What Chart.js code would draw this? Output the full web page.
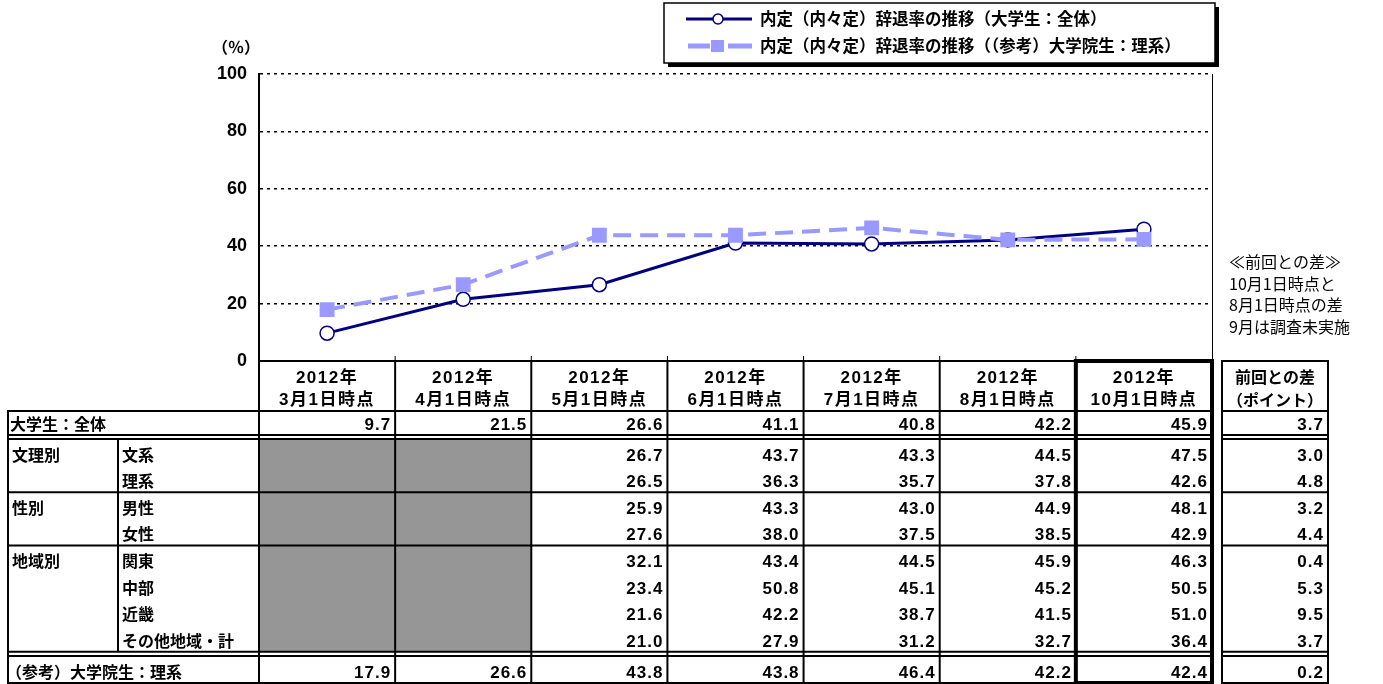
<!DOCTYPE html>
<html lang="ja">
<head>
<meta charset="utf-8">
<script src="https://cdn.jsdelivr.net/npm/chart.js@4/dist/chart.umd.min.js"></script>
<style>
  html, body { margin: 0; padding: 0; background: #fff; }
  #wrap { width: 1383px; height: 684px; }
</style>
</head>
<body>
<div id="wrap"><canvas id="rateChart" width="1383" height="684"></canvas></div>
<script>
// Survey points (x categories / table header)
const categories = [
  ['2012年', '3月1日時点'], ['2012年', '4月1日時点'], ['2012年', '5月1日時点'],
  ['2012年', '6月1日時点'], ['2012年', '7月1日時点'], ['2012年', '8月1日時点'],
  ['2012年', '10月1日時点']
];

// Line series (also table rows)
const undergradAll = [9.7, 21.5, 26.6, 41.1, 40.8, 42.2, 45.9];
const gradScience = [17.9, 26.6, 43.8, 43.8, 46.4, 42.2, 42.4];

// Breakdown rows (no survey before May)
const bunkei = [null, null, 26.7, 43.7, 43.3, 44.5, 47.5];
const rikei  = [null, null, 26.5, 36.3, 35.7, 37.8, 42.6];
const male   = [null, null, 25.9, 43.3, 43.0, 44.9, 48.1];
const female = [null, null, 27.6, 38.0, 37.5, 38.5, 42.9];
const kanto  = [null, null, 32.1, 43.4, 44.5, 45.9, 46.3];
const chubu  = [null, null, 23.4, 50.8, 45.1, 45.2, 50.5];
const kinki  = [null, null, 21.6, 42.2, 38.7, 41.5, 51.0];
const others = [null, null, 21.0, 27.9, 31.2, 32.7, 36.4];

// "前回との差" column, top to bottom
const pointDiffs = [3.7, 3.0, 4.8, 3.2, 4.4, 0.4, 5.3, 9.5, 3.7, 0.2];

const yTicks = [0, 20, 40, 60, 80, 100];

const seriesNames = [
  '内定（内々定）辞退率の推移（大学生：全体）',
  '内定（内々定）辞退率の推移（（参考）大学院生：理系）'
];

const noteLines = ['≪前回との差≫', '10月1日時点と', '8月1日時点の差', '9月は調査未実施'];

const FONT = "'Liberation Sans', 'Noto Sans CJK JP', sans-serif";
const CJK = "'Noto Sans CJK JP', 'Liberation Sans', sans-serif";
const NAVY = '#000080';
const LILAC = '#9999FF';
const GRAY = '#969696';

// table layout below the plot
const HDR_BOTTOM = 411, ALL_BOTTOM = 435, GROUP_TOP = 439, ROW_H = 26.6;
const LAST_TOP = 656, LAST_BOTTOM = 683;
const L0 = 8, L1 = 118, D0 = 1222, D1 = 1328;

const groupRows = [
  { group: '文理別', label: '文系', values: bunkei },
  { group: '', label: '理系', values: rikei },
  { group: '性別', label: '男性', values: male },
  { group: '', label: '女性', values: female },
  { group: '地域別', label: '関東', values: kanto },
  { group: '', label: '中部', values: chubu },
  { group: '', label: '近畿', values: kinki },
  { group: '', label: 'その他地域・計', values: others }
];

function hline(ctx, x1, x2, y) {
  ctx.beginPath(); ctx.moveTo(x1, y); ctx.lineTo(x2, y); ctx.stroke();
}
function vline(ctx, x, y1, y2) {
  ctx.beginPath(); ctx.moveTo(x, y1); ctx.lineTo(x, y2); ctx.stroke();
}

const sheetPlugin = {
  id: 'sheetPlugin',
  afterDraw(chart) {
    const ctx = chart.ctx;
    const xs = chart.scales.x;
    const area = chart.chartArea;
    const half = (xs.getPixelForValue(1) - xs.getPixelForValue(0)) / 2;
    const edges = categories.map((c, i) => xs.getPixelForValue(i) - half);
    edges.push(xs.getPixelForValue(categories.length - 1) + half);
    const right = edges[edges.length - 1];
    const top = area.bottom;
    const groupBottom = GROUP_TOP + ROW_H * groupRows.length;

    ctx.save();

    // plot right border and small inward ticks
    ctx.strokeStyle = '#000';
    ctx.lineWidth = 1;
    vline(ctx, area.right + 0.5, area.top, area.bottom);
    edges.slice(1, -1).forEach(x => vline(ctx, x, area.bottom - 5, area.bottom));

    // gray cells where there is no survey (one block per column)
    ctx.fillStyle = GRAY;
    categories.forEach((c, ci) => {
      const empty = groupRows.filter(r => r.values[ci] === null).length;
      if (empty === groupRows.length) {
        ctx.fillRect(edges[ci], GROUP_TOP, edges[ci + 1] - edges[ci], groupBottom - GROUP_TOP);
      }
    });

    // grid lines of the table
    ctx.strokeStyle = '#000';
    ctx.lineWidth = 2;
    hline(ctx, edges[0] - 1, right, top);
    hline(ctx, D0, D1, top);
    const hs = [HDR_BOTTOM, ALL_BOTTOM, GROUP_TOP, GROUP_TOP + 2 * ROW_H, GROUP_TOP + 4 * ROW_H,
      groupBottom, LAST_TOP, LAST_BOTTOM];
    hs.forEach(y => { hline(ctx, L0 - 1, right, y); hline(ctx, D0 - 1, D1 + 1, y); });
    edges.forEach(x => vline(ctx, x, top, LAST_BOTTOM));
    vline(ctx, L0, HDR_BOTTOM, LAST_BOTTOM + 1);
    vline(ctx, L1, GROUP_TOP, groupBottom);
    vline(ctx, D0, top - 1, LAST_BOTTOM + 1);
    vline(ctx, D1, top - 1, LAST_BOTTOM + 1);

    // latest column is framed with a heavy border
    ctx.lineWidth = 4;
    ctx.strokeRect(edges[6], top, right - edges[6], LAST_BOTTOM - top);

    // header text
    ctx.fillStyle = '#000';
    ctx.textBaseline = 'middle';
    ctx.textAlign = 'center';
    ctx.font = 'bold 17px ' + FONT;
    ctx.letterSpacing = '1.5px';
    categories.forEach((c, i) => {
      const cx = (edges[i] + edges[i + 1]) / 2;
      ctx.fillText(c[0], cx, top + 17);
      ctx.fillText(c[1], cx, top + 39);
    });
    ctx.font = 'bold 16px ' + CJK;
    ctx.letterSpacing = '0px';
    ctx.fillText('前回との差', (D0 + D1) / 2, top + 16);
    ctx.fillText('（ポイント）', (D0 + D1) / 2, top + 39);

    // body text
    const num = v => v.toFixed(1);
    const drawValues = (vals, yBase) => {
      ctx.textAlign = 'right';
      ctx.font = 'bold 17px ' + FONT;
      ctx.letterSpacing = '1px';
      vals.forEach((v, i) => {
        if (v !== null) ctx.fillText(num(v), edges[i + 1] - 4, yBase);
      });
      ctx.letterSpacing = '0px';
    };
    const drawLabel = (t, x, y) => {
      ctx.textAlign = 'left';
      ctx.font = 'bold 16px ' + CJK;
      ctx.fillText(t, x, y);
    };
    const drawDiff = (v, y) => {
      ctx.textAlign = 'right';
      ctx.font = 'bold 17px ' + FONT;
      ctx.letterSpacing = '1px';
      ctx.fillText(num(v), D1 - 4, y);
      ctx.letterSpacing = '0px';
    };

    ctx.textBaseline = 'alphabetic';
    let y = ALL_BOTTOM - 5;
    drawLabel('大学生：全体', L0 + 2, y);
    drawValues(undergradAll, y);
    drawDiff(pointDiffs[0], y);

    groupRows.forEach((r, ri) => {
      const yy = GROUP_TOP + (ri + 1) * ROW_H - 5;
      if (r.group) drawLabel(r.group, L0 + 4, yy);
      drawLabel(r.label, L1 + 4, yy);
      drawValues(r.values, yy);
      drawDiff(pointDiffs[ri + 1], yy);
    });

    y = LAST_BOTTOM - 5;
    drawLabel('（参考）大学院生：理系', L0 - 2, y);
    drawValues(gradScience, y);
    drawDiff(pointDiffs[pointDiffs.length - 1], y);

    // unit label
    ctx.font = 'bold 16px ' + CJK;
    ctx.textAlign = 'left';
    ctx.textBaseline = 'middle';
    ctx.fillText('（％）', 212, 47);

    // side note
    ctx.font = '16px ' + CJK;
    noteLines.forEach((t, i) => ctx.fillText(t, 1229, 262 + i * 21.5));

    // legend box with shadow
    const lx = 664, ly = 3, lw = 551, lh = 60;
    ctx.fillStyle = '#000';
    ctx.fillRect(lx + 4, ly + 4, lw, lh);
    ctx.fillStyle = '#fff';
    ctx.fillRect(lx, ly, lw, lh);
    ctx.lineWidth = 1.5;
    ctx.strokeRect(lx, ly, lw, lh);

    const ds = chart.data.datasets;
    // entry 1
    let ey = ly + 16;
    ctx.strokeStyle = NAVY;
    ctx.lineWidth = 3;
    hline(ctx, 686, 752, ey);
    ctx.beginPath();
    ctx.arc(718, ey, 5, 0, Math.PI * 2);
    ctx.fillStyle = '#fff'; ctx.fill();
    ctx.lineWidth = 1.5; ctx.stroke();
    // entry 2
    ey = ly + 43;
    ctx.strokeStyle = LILAC;
    ctx.lineWidth = 5;
    hline(ctx, 688, 710, ey);
    hline(ctx, 728, 752, ey);
    ctx.fillStyle = LILAC;
    ctx.fillRect(711, ey - 6, 13, 12);

    ctx.fillStyle = '#000';
    ctx.font = 'bold 16.5px ' + CJK;
    ctx.textAlign = 'left';
    ctx.fillText(ds[0].label, 760, ly + 16);
    ctx.fillText(ds[1].label, 760, ly + 43);

    ctx.restore();
  }
};

new Chart(document.getElementById('rateChart'), {
  type: 'line',
  data: {
    labels: categories,
    datasets: [
      {
        label: seriesNames[0],
        data: undergradAll,
        order: 2,
        borderColor: NAVY,
        borderWidth: 3,
        pointRadius: 7,
        pointHoverRadius: 7,
        pointBackgroundColor: '#fff',
        pointBorderColor: NAVY,
        pointBorderWidth: 1.5,
        tension: 0
      },
      {
        label: seriesNames[1],
        data: gradScience,
        order: 1,
        borderColor: LILAC,
        borderWidth: 4,
        borderDash: [18, 9],
        pointStyle: 'rect',
        pointRadius: 10.5,
        pointHoverRadius: 10.5,
        pointBackgroundColor: LILAC,
        pointBorderColor: LILAC,
        pointBorderWidth: 0,
        tension: 0
      }
    ]
  },
  options: {
    responsive: false,
    devicePixelRatio: 1,
    animation: false,
    layout: { padding: { left: 0, top: 74, right: 171, bottom: 323 } },
    plugins: {
      legend: { display: false },
      tooltip: { enabled: false }
    },
    scales: {
      x: { display: false, offset: true },
      y: {
        min: 0,
        max: 100,
        afterFit: scale => { scale.width = 259; },
        afterBuildTicks: scale => { scale.ticks = yTicks.map(v => ({ value: v })); },
        ticks: {
          color: '#000',
          padding: 12,
          font: { family: FONT, size: 18, weight: 'bold' }
        },
        grid: { color: '#000', lineWidth: 1.5, drawTicks: false },
        border: { display: true, color: '#000', width: 2, dash: [3, 4] }
      }
    }
  },
  plugins: [sheetPlugin]
});
</script>
</body>
</html>
